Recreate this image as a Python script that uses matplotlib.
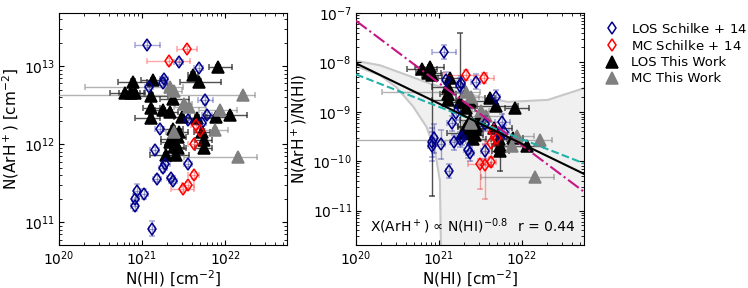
import numpy as np
import matplotlib.pyplot as plt
from matplotlib.lines import Line2D

# log10 column densities
# LOS Schilke+14
los14_lognhi = [21.06, 21.44, 21.68, 21.26, 21.25, 21.08, 21.76, 21.78, 21.55, 21.21, 21.72, 21.15,
                21.28, 21.25, 21.55, 21.18, 21.35, 21.37, 20.94, 21.02, 20.92, 20.91, 21.12]
los14_logn = [13.27, 13.05, 12.98, 12.84, 12.78, 12.73, 12.56, 12.37, 12.31, 12.19, 12.27, 11.92,
              11.75, 11.69, 11.75, 11.56, 11.57, 11.53, 11.40, 11.36, 11.30, 11.21, 10.92]
los14_xerr = [0.15, 0.05, 0.05, 0.05, 0.05, 0.05, 0.09, 0.06, 0.05, 0.05, 0.05, 0.05,
              0.05, 0.05, 0.05, 0.05, 0.05, 0.05, 0.04, 0.05, 0.04, 0.04, 0.04]
los14_yerr = [0.04] * 18 + [0.09, 0.06, 0.06, 0.06, 0.1]
los14_rerr = [0.15] * 18 + [0.3, 0.3, 0.3, 0.3, 0.15]

# MC Schilke+14
mc14_lognhi = [21.54, 21.32, 21.65, 21.70, 21.63, 21.62, 21.55, 21.49]
mc14_logn = [13.22, 13.06, 12.24, 12.17, 12.00, 11.60, 11.48, 11.43]
mc14_xerr = [0.12, 0.26, 0.06, 0.06, 0.08, 0.07, 0.07, 0.14]
mc14_yerr = [0.04] * 8
mc14_rerr_lo = [0.1, 0.1, 0.1, 0.15, 0.3, 0.1, 0.7, 0.5]
mc14_rerr_hi = [0.1, 0.1, 0.1, 0.15, 0.2, 0.1, 0.4, 0.1]

# LOS this work
los_lognhi = [21.92, 21.61, 21.68, 20.89, 21.13, 20.79, 20.87, 20.91, 21.11, 21.37, 21.11, 21.11,
              21.25, 21.33, 21.48, 21.66, 21.89, 22.06, 21.37, 21.45, 21.72, 21.35, 21.43, 21.74,
              21.33, 21.39, 21.43, 21.74, 21.29, 21.41]
los_logn = [12.99, 12.89, 12.80, 12.80, 12.82, 12.65, 12.66, 12.65, 12.62, 12.58, 12.46, 12.34,
            12.44, 12.41, 12.35, 12.34, 12.35, 12.37, 12.20, 12.16, 12.16, 12.07, 12.09, 12.05,
            12.03, 11.97, 11.95, 11.95, 11.86, 11.86]
los_xerr_lo = [0.12, 0.06, 0.22, 0.18, 0.14, 0.18, 0.15, 0.12, 0.2, 0.15, 0.1, 0.19,
               0.1, 0.1, 0.1, 0.2, 0.12, 0.3, 0.12, 0.1, 0.1, 0.12, 0.1, 0.1,
               0.1, 0.12, 0.1, 0.1, 0.2, 0.1]
los_xerr_hi = [0.16, 0.06, 0.27, 0.17, 0.14, 0.18, 0.15, 0.12, 0.2, 0.2, 0.1, 0.1,
               0.1, 0.1, 0.1, 0.22, 0.12, 0.2, 0.12, 0.1, 0.1, 0.12, 0.1, 0.1,
               0.1, 0.12, 0.1, 0.1, 0.1, 0.15]
los_yerr = [0.03] * 30
los_rerr_lo = [0.04] * 30
los_rerr_hi = [0.04] * 30
los_rerr_lo[7] = 2.45
los_rerr_lo[12], los_rerr_hi[12] = 0.8, 1.4
los_rerr_lo[27], los_rerr_hi[27] = 0.4, 0.15

# MC this work
mc_lognhi = [21.33, 22.21, 21.57, 21.94, 21.50, 21.88, 22.15, 21.38, 21.39]
mc_logn = [12.73, 12.63, 12.48, 12.44, 12.51, 12.18, 11.83, 12.68, 12.16]
mc_xerr_lo = [1.02, 2.5, 0.18, 0.25, 0.1, 0.18, 0.65, 0.1, 0.1]
mc_xerr_hi = [0.16, 0.15, 0.2, 0.2, 0.1, 0.16, 0.23, 0.1, 0.1]
mc_yerr = [0.03] * 9

# fits to the abundance (log X = a + b * (log N(HI) - 21))
fit_a, fit_b = -8.835, -0.815
magenta_a, magenta_b = -8.42, -1.26
teal_a, teal_b = -8.90, -0.656
fit_lognhi = [20.0, 22.77]

# confidence band edges (log)
band_up_x = [20.0, 20.29, 20.6, 20.89, 21.2, 21.5, 21.83, 22.31, 22.77]
band_up_y = [-7.97, -8.06, -8.25, -8.43, -8.58, -8.70, -8.80, -8.76, -8.51]
band_lo_x = [20.0, 20.29, 20.49, 20.69, 20.85, 20.95, 21.01, 21.03, 22.77]
band_lo_y = [-8.08, -8.26, -8.51, -8.90, -9.31, -9.78, -10.4, -12.5, -12.5]


def asym(logv, lo, hi):
    logv = np.asarray(logv, float)
    v = 10 ** logv
    return v, np.vstack([v - 10 ** (logv - np.asarray(lo)), 10 ** (logv + np.asarray(hi)) - v])


series = [
    dict(nhi=los_lognhi, n=los_logn, xlo=los_xerr_lo, xhi=los_xerr_hi, ye=los_yerr,
         rlo=los_rerr_lo, rhi=los_rerr_hi, fmt='^', color='black', mfc='black',
         ecolor=(0.15, 0.15, 0.15, 0.8), ms=8, label='LOS This Work', z=3),
    dict(nhi=mc_lognhi, n=mc_logn, xlo=mc_xerr_lo, xhi=mc_xerr_hi, ye=mc_yerr,
         rlo=mc_yerr, rhi=mc_yerr, fmt='^', color='gray', mfc='gray',
         ecolor=(0.5, 0.5, 0.5, 0.6), ms=8, label='MC This Work', z=3),
    dict(nhi=los14_lognhi, n=los14_logn, xlo=los14_xerr, xhi=los14_xerr, ye=los14_yerr,
         rlo=los14_rerr, rhi=los14_rerr, fmt='d', color='#00008B', mfc='none',
         ecolor=(0.0, 0.0, 0.55, 0.35), ms=6.5, label='LOS Schilke$\\,+\\,$14', z=4),
    dict(nhi=mc14_lognhi, n=mc14_logn, xlo=mc14_xerr, xhi=mc14_xerr, ye=mc14_yerr,
         rlo=mc14_rerr_lo, rhi=mc14_rerr_hi, fmt='d', color='red', mfc='none',
         ecolor=(1.0, 0.0, 0.0, 0.35), ms=6.5, label='MC Schilke$\\,+\\,$14', z=4),
]

fig = plt.figure(figsize=(7.48, 2.88), dpi=100)
ax1 = fig.add_axes([0.079, 0.149, 0.305, 0.806])
ax2 = fig.add_axes([0.476, 0.149, 0.305, 0.806])

handles = {}
for s in series:
    x, xe = asym(s['nhi'], s['xlo'], s['xhi'])
    y, ye = asym(s['n'], s['ye'], s['ye'])
    kw = dict(fmt=s['fmt'], color=s['color'], mfc=s['mfc'], mec=s['color'], ms=s['ms'],
              mew=1.1, ecolor=s['ecolor'], elinewidth=1.0, capsize=2, zorder=s['z'])
    ax1.errorbar(x, y, xerr=xe, yerr=ye, **kw)
    r, re = asym(np.asarray(s['n']) - np.asarray(s['nhi']), s['rlo'], s['rhi'])
    ax2.errorbar(x, r, xerr=xe, yerr=re, **kw)
    handles[s['label']] = Line2D([], [], ls='none', marker=s['fmt'], color=s['color'],
                                 mfc=s['mfc'], mec=s['color'], ms=s['ms'], mew=1.1)

# band and fits on the right panel
poly_x = 10 ** np.concatenate([band_up_x, band_lo_x[::-1]])
poly_y = 10 ** np.concatenate([band_up_y, band_lo_y[::-1]])
ax2.fill(poly_x, poly_y, color='#f0f0f0', zorder=0)
ax2.plot(10 ** np.array(band_up_x), 10 ** np.array(band_up_y), color='#c8c8c8', lw=1.5, zorder=1)
ax2.plot(10 ** np.array(band_lo_x), 10 ** np.array(band_lo_y), color='#c8c8c8', lw=1.5, zorder=1)

fx = np.array(fit_lognhi)
ax2.plot(10 ** fx, 10 ** (teal_a + teal_b * (fx - 21)), color='lightseagreen', ls='--', lw=1.5, zorder=5)
ax2.plot(10 ** fx, 10 ** (magenta_a + magenta_b * (fx - 21)), color='mediumvioletred', ls='-.', lw=1.5, zorder=5)
ax2.plot(10 ** fx, 10 ** (fit_a + fit_b * (fx - 21)), color='black', ls='-', lw=1.5, zorder=5)

for ax in (ax1, ax2):
    ax.set_xscale('log')
    ax.set_yscale('log')
    ax.set_xlim(1e20, 5.6e22)
    ax.tick_params(which='both', direction='in', top=True, right=True, labelsize=10, pad=3)
    ax.set_xlabel('N(HI) [cm$^{-2}$]', fontsize=11, labelpad=0.5)

ax1.set_ylim(5.1e10, 4.8e13)
ax2.set_ylim(2e-12, 1e-7)
ax1.set_ylabel('N(ArH$^+$) [cm$^{-2}$]', fontsize=11, labelpad=2)
ax2.set_ylabel('N(ArH$^+$)/N(HI)', fontsize=11, labelpad=2)

ax2.text(0.06, 0.06, 'X(ArH$^+$) ∝ N(HI)$^{-0.8}$', transform=ax2.transAxes, fontsize=10)
ax2.text(0.96, 0.06, 'r = 0.44', transform=ax2.transAxes, fontsize=10, ha='right')

order = ['LOS Schilke$\\,+\\,$14', 'MC Schilke$\\,+\\,$14', 'LOS This Work', 'MC This Work']
fig.legend([handles[k] for k in order], order, loc='upper left', bbox_to_anchor=(0.807, 0.925),
           frameon=False, fontsize=9.5, labelspacing=0.25, borderpad=0, borderaxespad=0,
           handlelength=1.2, handletextpad=0.9)

plt.savefig('out.png', dpi=100)
